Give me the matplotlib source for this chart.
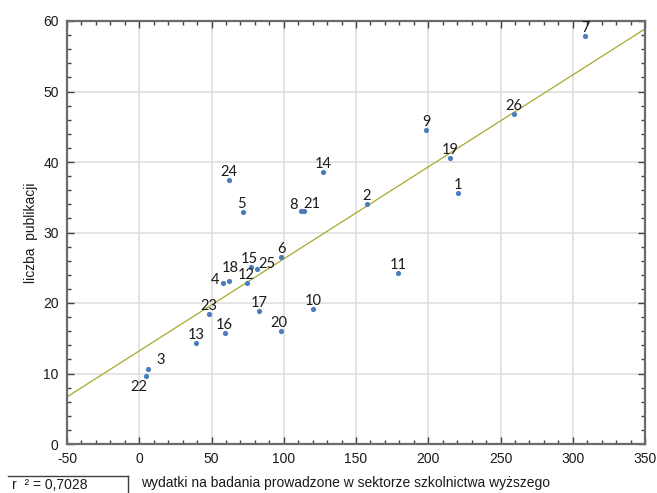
import numpy as np
import matplotlib
matplotlib.use("Agg")
import matplotlib.pyplot as plt
from matplotlib.lines import Line2D

# data
ids = [1, 2, 3, 4, 5, 6, 7, 8, 9, 10, 11, 12, 13,
       14, 15, 16, 17, 18, 19, 20, 21, 22, 23, 24, 25, 26]
wydatki = [220.6, 157.6, 6.3, 57.7, 71.8, 98.1, 308.5, 111.9, 198.4, 120.5, 179.1, 74.3, 39.3,
           127.2, 77.3, 59.1, 82.9, 62.1, 215.1, 98.1, 114.0, 4.9, 48.1, 62.1, 81.5, 259.3]
publikacje = [35.6, 34.0, 10.6, 22.8, 32.9, 26.5, 57.9, 33.0, 44.5, 19.1, 24.3, 22.8, 14.3,
              38.6, 25.1, 15.7, 18.8, 23.1, 40.6, 16.0, 33.0, 9.7, 18.5, 37.4, 24.8, 46.8]
r2_text = "r  ² = 0,7028"

# label offsets in pixels (dx, dy), default is straight above the point
label_offsets = {8: (-7, 6), 21: (8, 7), 25: (10, 5), 15: (-2, 8), 18: (1, 13), 4: (-8, 3),
                 3: (12, 9), 22: (-8, -11), 5: (-2, 8), 20: (-2, 8)}

plt.rcParams['font.family'] = ['Liberation Sans', 'DejaVu Sans']
plt.rcParams['axes.unicode_minus'] = False

fig = plt.figure(figsize=(6.57, 4.93), dpi=100)
ax = fig.add_axes([67 / 657, 49 / 493, 578 / 657, 423 / 493])

x = np.array(wydatki)
y = np.array(publikacje)

# regression line fitted to the points
a, b = np.polyfit(x, y, 1)
xl = np.array([-50, 350])
ax.plot(xl, a * xl + b, color='#a9a82e', lw=0.9, zorder=2)

ax.scatter(x, y, s=14, color='#4a7ebb', zorder=3, linewidths=0)

for i, xi, yi in zip(ids, x, y):
    dx, dy = label_offsets.get(i, (0, 8))
    ax.annotate(str(i), (xi, yi), xytext=(dx, dy), textcoords='offset pixels',
                ha='center', va='center', fontsize=10.5, family='Lato', color='#1a1a1a',
                zorder=4)

ax.set_xlim(-50, 350)
ax.set_ylim(0, 60)
ax.set_xticks(np.arange(-50, 351, 50))
ax.set_yticks(np.arange(0, 61, 10))
ax.set_xticks(np.arange(-50, 351, 10), minor=True)
ax.set_yticks(np.arange(0, 61, 2), minor=True)
ax.grid(True, which='major', color='#dcdcdc', lw=1.1, zorder=0)
ax.set_axisbelow(True)

ax.tick_params(which='both', direction='in', top=True, right=True, color='#404040',
               labelsize=10, labelcolor='#1a1a1a')
ax.tick_params(which='major', length=5, width=1)
ax.tick_params(which='minor', length=3, width=1)
ax.tick_params(axis='x', which='major', pad=6)
ax.tick_params(axis='y', which='major', pad=6)
for s in ax.spines.values():
    s.set_color('#6b6b6b')
    s.set_linewidth(1.6)

ax.set_xlabel('wydatki na badania prowadzone w sektorze szkolnictwa wyższego',
              fontsize=10, color='#1a1a1a')
ax.set_ylabel('liczba  publikacji', fontsize=10, color='#1a1a1a')
ax.xaxis.set_label_coords(0.481, -0.075)
ax.yaxis.set_label_coords(-0.05, 0.5)

# r^2 box in the lower left corner
fig.text(12 / 657, 1 - 485 / 493, r2_text, fontsize=10, va='center', ha='left', color='#1a1a1a')
fig.add_artist(Line2D([8 / 657, 128 / 657], [1 - 476 / 493, 1 - 476 / 493],
                      transform=fig.transFigure, color='#404040', lw=1))
fig.add_artist(Line2D([128 / 657, 128 / 657], [1 - 476 / 493, 0],
                      transform=fig.transFigure, color='#404040', lw=1))

fig.savefig('out.png', dpi=100)
